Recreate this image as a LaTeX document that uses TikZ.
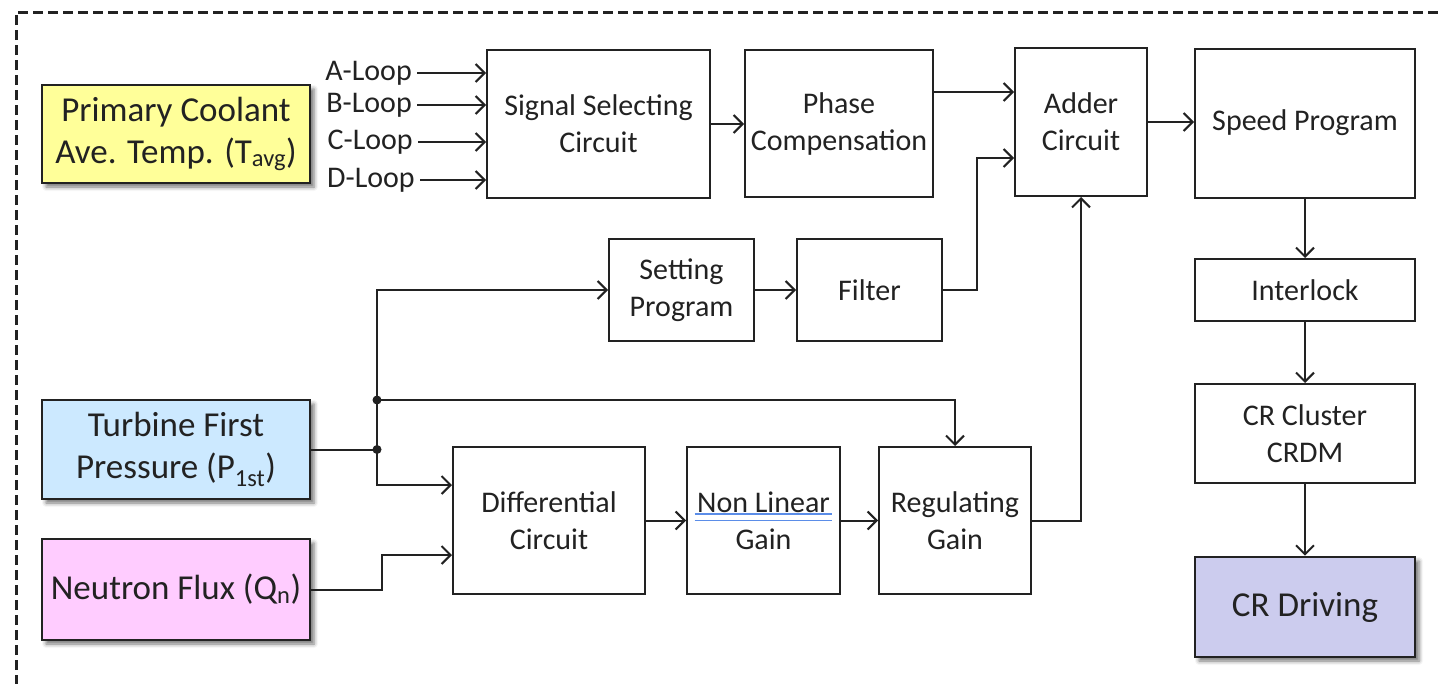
\documentclass[tikz,border=0pt]{standalone}
\usepackage{fontspec}
\setmainfont{Carlito}
\usetikzlibrary{arrows.meta,calc,shadows.blur}
\definecolor{ink}{HTML}{222222}
\definecolor{tavgfill}{HTML}{FFFF99}
\definecolor{pressfill}{HTML}{CCE9FF}
\definecolor{fluxfill}{HTML}{FFCCFF}
\definecolor{drivefill}{HTML}{CCCCEE}
\definecolor{spellblue}{HTML}{5B8DE8}
\begin{document}
\begin{tikzpicture}[x=1pt,y=-1pt,
  box/.style={draw=ink, line width=2pt, fill=white, align=center, inner sep=2pt,
    text=ink, font=\fontsize{30}{37}\selectfont},
  inbox/.style={box, line width=2.6pt, font=\fontsize{35}{42}\selectfont,
    blur shadow={shadow xshift=4pt, shadow yshift=-4pt, shadow blur radius=4pt, shadow opacity=55}},
  wire/.style={draw=ink, line width=2pt},
  arr/.style={wire, -{Straight Barb[length=9pt,width=18pt,line width=2pt]}},
  lbl/.style={text=ink, font=\fontsize{30}{37}\selectfont, anchor=east, inner sep=1pt},
  dot/.style={circle, fill=ink, inner sep=0pt, minimum size=9pt}]
\useasboundingbox (0,0) rectangle (1442,683);

% dashed frame running off the right and bottom edges
\draw[ink, line width=3pt, dash pattern=on 10pt off 5pt] (16,700) -- (16,12) -- (1460,12);

% input boxes
\node[inbox, fill=tavgfill, minimum width=268pt, minimum height=98pt] (tavg) at (176,134)
  {Primary Coolant\\Ave. Temp. (T\textsubscript{avg})};
\node[inbox, fill=pressfill, minimum width=268pt, minimum height=99pt] (press) at (176,449.5)
  {Turbine First\\Pressure (P\textsubscript{1st})};
\node[inbox, fill=fluxfill, minimum width=268pt, minimum height=101pt] (flux) at (176,589.5)
  {Neutron Flux (Q\textsubscript{n})};

% loop inputs
\node[lbl] (la) at (413,73) {A-Loop};
\node[lbl] (lb) at (413,105) {B-Loop};
\node[lbl] (lc) at (414,142) {C-Loop};
\node[lbl] (ld) at (416,180) {D-Loop};

% processing blocks
\node[box, minimum width=223pt, minimum height=148pt] (ssc) at (598.5,124) {Signal Selecting\\Circuit};
\node[box, minimum width=188pt, minimum height=147pt] (phc) at (839,123.5) {Phase\\Compensation};
\node[box, minimum width=132pt, minimum height=148pt] (add) at (1081,122) {Adder\\Circuit};
\node[box, minimum width=220pt, minimum height=149pt] (spd) at (1305,123) {Speed Program};
\node[box, minimum width=220pt, minimum height=62pt] (ilk) at (1305,290) {Interlock};
\node[box, minimum width=220pt, minimum height=99pt] (crc) at (1305,433.5) {CR Cluster\\CRDM};
\node[inbox, fill=drivefill, minimum width=220pt, minimum height=100pt] (crd) at (1305,607) {CR Driving};
\node[box, minimum width=145pt, minimum height=102pt] (setp) at (681.5,290) {Setting\\Program};
\node[box, minimum width=145pt, minimum height=102pt] (flt) at (869.5,290) {Filter};
\node[box, minimum width=192pt, minimum height=147pt] (dif) at (549,520.5) {Differential\\Circuit};
\node[box, minimum width=153pt, minimum height=147pt] (nlg) at (763.5,520.5) {Non Linear\\Gain};
\node[box, minimum width=152pt, minimum height=147pt] (rg) at (955,520.5) {Regulating\\Gain};

% double underline beneath "Non Linear"
\draw[spellblue, line width=1.6pt] ($(nlg.center)+(-69,-6.5)$) -- ++(137,0);
\draw[spellblue, line width=1.6pt] ($(nlg.center)+(-69,0)$) -- ++(137,0);

% branch points of the pressure signal
\coordinate (j2) at (377,449.5);
\coordinate (j1) at (377,400);

% connectors
\foreach \l in {la,lb,lc,ld}
  \draw[arr] ([xshift=4pt]\l.east) -- (\l.east -| ssc.west);
\draw[arr] (ssc.east) -- (ssc.east -| phc.west);
\draw[arr] ([yshift=31.5pt]phc.east) -- ([yshift=31.5pt]phc.east -| add.west);
\draw[arr] (flt.east) -- ++(34,0) |- ([yshift=-36pt]add.west);
\draw[arr] (add.east) -- (add.east -| spd.west);
\draw[arr] (spd) -- (ilk);
\draw[arr] (ilk) -- (crc);
\draw[arr] (crc) -- (crd);
\draw[arr] (setp) -- (flt);
\draw[wire] (press.east) -- (j2);
\draw[arr] (j2) |- (setp.west);
\draw[arr] (j2) |- ([yshift=35.5pt]dif.west);
\draw[arr] (j1) -| (rg.north);
\draw[arr] (flux.east) -- ++(71,0) |- ([yshift=-34.5pt]dif.west);
\draw[arr] (dif) -- (nlg);
\draw[arr] (nlg) -- (rg);
\draw[arr] (rg.east) -| (add.south);
\node[dot] at (j1) {};
\node[dot] at (j2) {};
\end{tikzpicture}
\end{document}
